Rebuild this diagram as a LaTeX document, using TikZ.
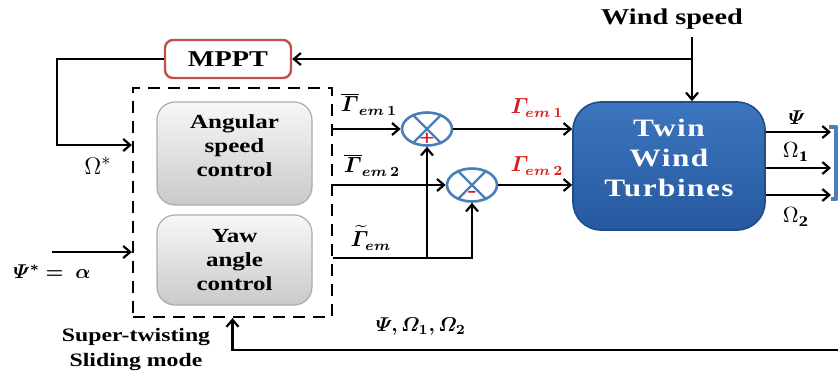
\documentclass[tikz,border=0pt]{standalone}
\usepackage{amsmath, amssymb, bm}
\usepackage{fontspec}
\setmainfont{Liberation Serif}[FakeStretch=1.25]
\usetikzlibrary{arrows.meta, shapes.geometric, positioning, calc}

\definecolor{mpptred}{RGB}{192, 80, 77}
\definecolor{sumblue}{RGB}{74, 126, 187}
\definecolor{turbtop}{RGB}{60, 118, 190}
\definecolor{turbbot}{RGB}{38, 88, 158}
\definecolor{turbedge}{RGB}{32, 76, 138}
\definecolor{lblred}{RGB}{215, 30, 30}

\begin{document}
\begin{tikzpicture}[x=0.5pt, y=-0.5pt, line width=1.1pt,
	>={Straight Barb[length=3.5pt,width=6pt,line width=1.1pt]},
	mpptbox/.style={draw=mpptred, line width=1.2pt, rounded corners=4pt, fill=white,
		minimum width=63pt, minimum height=19pt, inner sep=0pt},
	stbox/.style={draw, dash pattern=on 6pt off 4pt, minimum width=99.5pt,
		minimum height=114.5pt, inner sep=0pt},
	ctrlbox/.style={draw=gray!65, line width=0.6pt, rounded corners=9pt,
		top color=gray!6, bottom color=gray!42, minimum width=77.5pt,
		align=center, inner sep=0pt, font=\fontsize{10}{12}\selectfont\bfseries},
	ctrltxt/.style={align=center, inner sep=0pt, font=\fontsize{10}{12}\selectfont\bfseries},
	sumjn/.style={ellipse, draw=sumblue, line width=1.3pt, fill=white,
		minimum width=25pt, minimum height=16.5pt, inner sep=0pt},
	turbbox/.style={draw=turbedge, line width=0.8pt, rounded corners=14pt,
		top color=turbtop, bottom color=turbbot, minimum width=96pt, minimum height=64pt},
	turbtxt/.style={align=center, text=white, inner sep=0pt,
		font=\fontsize{12.5}{15}\selectfont\bfseries\addfontfeatures{LetterSpace=6}},
	lbl/.style={inner sep=0pt, font=\fontsize{10}{12}\selectfont}]
	\useasboundingbox (0,0) rectangle (838,372);

	% blocks
	\node[font=\fontsize{11.3}{13}\selectfont\bfseries] (wind) at (672,19) {Wind speed};
	\node[mpptbox, font=\fontsize{11.3}{13}\selectfont\bfseries] (mppt) at (228,59) {MPPT};
	\node[stbox] (stsmc) at (232.5,202.5) {};
	\node[ctrlbox, minimum height=51.5pt] (asc) at (234.5,153.5) {};
	\node[ctrltxt] (asctxt) at (234.5,146) {Angular\\speed\\control};
	\node[ctrlbox, minimum height=45pt] (yac) at (234.5,260) {Yaw\\angle\\control};
	\node[sumjn] (sum1) at (427,129) {};
	\node[sumjn] (sum2) at (472,185) {};
	\draw[sumblue, line width=1.2pt] (sum1.45) -- (sum1.225) (sum1.135) -- (sum1.315);
	\draw[sumblue, line width=1.2pt] (sum2.45) -- (sum2.225) (sum2.135) -- (sum2.315);
	\node[text=lblred, font=\fontsize{11}{12}\selectfont\bfseries, inner sep=0pt] (plus) at (427,139) {+};
	\node[text=lblred, font=\fontsize{11}{12}\selectfont\bfseries, inner sep=0pt] (minus) at (472,194) {-};
	\node[turbbox] (turb) at (669,166) {};
	\node[turbtxt] (turbname) at (669,158) {Twin\\Wind\\Turbines};

	% wind speed and MPPT
	\coordinate (ws) at (692,37);
	\draw[->] (ws) -- (ws |- turb.north);
	\draw[->] (ws |- mppt.east) -- (mppt.east);
	\coordinate (lc) at (57,145);
	\draw[->] (mppt.west) -| (lc) -- (lc -| stsmc.west);
	\coordinate (psin) at (52,252);
	\draw[->] (psin) -- (psin -| stsmc.west);

	% torques
	\draw[->] (stsmc.east |- sum1.west) -- (sum1.west);
	\draw[->] (stsmc.east |- sum2.west) -- (sum2.west);
	\coordinate (tl) at (427,258);
	\draw[->] (stsmc.east |- tl) -| (sum2.south);
	\draw[->] (tl) -- (sum1.south);
	\draw[->] (sum1.east) -- (sum1.east -| turb.west);
	\draw[->] (sum2.east) -- (sum2.east -| turb.west);

	% outputs and feedback
	\foreach \y/\n in {132/1,168/2,195/3} {
		\coordinate (out\n) at (831,\y);
		\draw[->] (out\n -| turb.east) -- (out\n);
	}
	\draw[sumblue, line width=2.2pt, line join=round] (829,127) -- (836,127) -- (836,199) -- (831,199);
	\coordinate (fb) at (838,350);
	\draw[->] (fb) -| (stsmc.south);

	% labels
	\node[lbl, font=\fontsize{12.5}{14}\selectfont] (omlbl) at (98,166) {$\Omega^{*}$};
	\node[lbl] (psilbl) at (52,272) {$\bm{\varPsi^{*} =\ \alpha}$};
	\node[lbl, font=\fontsize{10.5}{12}\selectfont] (g1) at (369,104) {$\bm{\overline{\varGamma}_{em\,1}}$};
	\node[lbl, font=\fontsize{10.5}{12}\selectfont] (g2) at (372,165) {$\bm{\overline{\varGamma}_{em\,2}}$};
	\node[lbl, font=\fontsize{10.5}{12}\selectfont] (g3) at (371,238) {$\bm{\widetilde{\varGamma}_{em}}$};
	\node[lbl, text=lblred, font=\fontsize{10.5}{12}\selectfont] (r1) at (537,108) {$\bm{\varGamma_{em\,1}}$};
	\node[lbl, text=lblred, font=\fontsize{10.5}{12}\selectfont] (r2) at (537,166) {$\bm{\varGamma_{em\,2}}$};
	\node[lbl] (psiout) at (797,118) {$\bm{\varPsi}$};
	\node[lbl, font=\fontsize{10.5}{12}\selectfont] (om1) at (795,152) {$\Omega_{\mathbf{1}}$};
	\node[lbl, font=\fontsize{10.5}{12}\selectfont] (om2) at (795,217) {$\Omega_{\mathbf{2}}$};
	\node[lbl] (fblbl) at (421,327) {$\bm{\varPsi,\varOmega_1,\varOmega_2}$};
	\node[align=center, inner sep=0pt, font=\fontsize{9.5}{12.5}\selectfont\bfseries] (stlbl) at (136,349.5) {Super-twisting\\Sliding mode};
\end{tikzpicture}
\end{document}
